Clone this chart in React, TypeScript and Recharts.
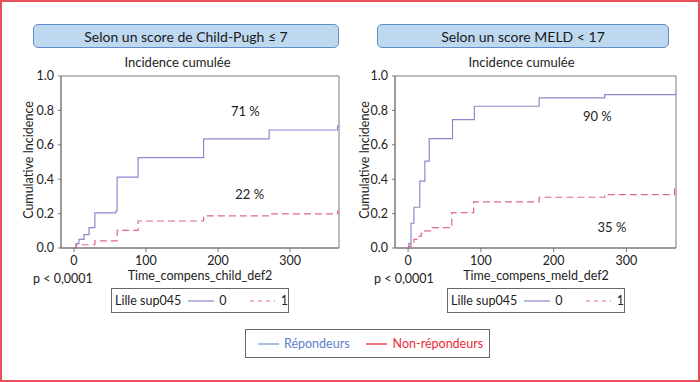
import React from 'react';
import { LineChart, Line, XAxis, YAxis, ReferenceArea, ReferenceDot } from 'recharts';

// Left panel (Child-Pugh ≤ 7): [day, cumulative incidence]
const childRespT = [0, 3, 7, 14, 21, 29, 58, 60, 89, 180, 271, 366, 368];
const childRespV = [0, 0.025, 0.05, 0.078, 0.118, 0.204, 0.215, 0.412, 0.525, 0.634, 0.686, 0.709, 0.709];
const childNonT = [0, 3, 29, 60, 89, 180, 271, 366, 368];
const childNonV = [0, 0.019, 0.041, 0.103, 0.157, 0.187, 0.198, 0.214, 0.214];

// Right panel (MELD < 17)
const meldRespT = [0, 1, 4, 8, 16, 23, 29, 61, 91, 180, 270, 367, 368];
const meldRespV = [0, 0.027, 0.144, 0.237, 0.389, 0.505, 0.636, 0.746, 0.824, 0.873, 0.892, 0.895, 0.895];
const meldNonT = [0, 1, 4, 8, 13, 18, 23, 31, 60, 90, 180, 270, 366, 368];
const meldNonV = [0, 0.01, 0.03, 0.05, 0.068, 0.085, 0.1, 0.118, 0.206, 0.268, 0.295, 0.31, 0.342, 0.342];

const xTicks = [0, 100, 200, 300];
const yTicks = [0, 0.2, 0.4, 0.6, 0.8, 1.0];

const FONT = 'Lato, "Open Sans", sans-serif';
const BLUE = '#8a8ad0';
const RED = '#dc6a84';
const AXIS = '#7a7a7a';

const toSeries = (t: number[], v: number[]) => t.map((x, i) => ({ t: x, v: v[i] }));

type PanelProps = {
  left: number;
  right: number;
  respT: number[]; respV: number[]; nonT: number[]; nonV: number[];
  respLabel: { x: number; y: number; text: string };
  nonLabel: { x: number; y: number; text: string };
};

function Panel({ left, right, respT, respV, nonT, nonV, respLabel, nonLabel }: PanelProps) {
  const tickStyle = { fill: '#222', fontSize: 12.5, fontFamily: FONT };
  return (
    <div style={{ position: 'absolute', left, top: 0 }}>
      <LineChart width={350} height={300} margin={{ top: 76, right, bottom: 22, left: 0 }}>
        <XAxis
          type="number"
          dataKey="t"
          domain={[-18, 368]}
          allowDataOverflow
          ticks={xTicks}
          tickSize={4}
          tickMargin={4}
          height={30}
          stroke={AXIS}
          tick={tickStyle}
        />
        <YAxis
          type="number"
          dataKey="v"
          domain={[0, 1]}
          ticks={yTicks}
          tickFormatter={(v: number) => v.toFixed(1)}
          tickSize={3}
          tickMargin={4}
          width={61}
          stroke={AXIS}
          tick={tickStyle}
        />
        <ReferenceArea x1={-18} x2={368} y1={0} y2={1} fill="none" stroke={AXIS} strokeWidth={1} ifOverflow="visible" />
        <Line
          data={toSeries(respT, respV)}
          dataKey="v"
          type="stepAfter"
          stroke={BLUE}
          strokeWidth={1.2}
          dot={false}
          isAnimationActive={false}
        />
        <Line
          data={toSeries(nonT, nonV)}
          dataKey="v"
          type="stepAfter"
          stroke={RED}
          strokeWidth={1.2}
          strokeDasharray="7 4"
          dot={false}
          isAnimationActive={false}
        />
        <ReferenceDot x={respLabel.x} y={respLabel.y} r={0} fill="none" stroke="none"
          label={{ value: respLabel.text, position: 'center', fill: '#222', fontSize: 13, fontFamily: FONT }} />
        <ReferenceDot x={nonLabel.x} y={nonLabel.y} r={0} fill="none" stroke="none"
          label={{ value: nonLabel.text, position: 'center', fill: '#222', fontSize: 13, fontFamily: FONT }} />
      </LineChart>
    </div>
  );
}

const abs = (o: React.CSSProperties): React.CSSProperties => ({ position: 'absolute', ...o });

function TitleBox({ x, w, text }: { x: number; w: number; text: string }) {
  return (
    <div style={abs({
      left: x, top: 24, width: w, height: 24, boxSizing: 'border-box',
      background: '#bed8f0', border: '1px solid #5f8fca', borderRadius: 5,
      display: 'flex', alignItems: 'center', justifyContent: 'center',
      fontSize: 14, color: '#1a1a1a',
    })}>{text}</div>
  );
}

function SmallLegend({ x }: { x: number }) {
  return (
    <div style={abs({
      left: x, top: 288, width: 178, height: 25, boxSizing: 'border-box',
      border: '1.5px solid #666', display: 'flex', alignItems: 'center',
      fontSize: 12.5, color: '#222', paddingLeft: 3, whiteSpace: 'nowrap',
    })}>
      <span>Lille sup045</span>
      <svg width={30} height={10} style={{ marginLeft: 7 }}>
        <line x1={0} y1={5} x2={29} y2={5} stroke={BLUE} strokeWidth={1.2} />
      </svg>
      <span style={{ marginLeft: 5 }}>0</span>
      <svg width={29} height={10} style={{ marginLeft: 23 }}>
        <line x1={0} y1={5} x2={29} y2={5} stroke={RED} strokeWidth={1.2} strokeDasharray="4 4" />
      </svg>
      <span style={{ marginLeft: 6 }}>1</span>
    </div>
  );
}

const yLabelStyle = (cx: number): React.CSSProperties => abs({
  left: cx - 70, top: 160 - 7, width: 140, height: 14, textAlign: 'center',
  transform: 'rotate(-90deg)', fontSize: 12.5, color: '#222', lineHeight: '14px', whiteSpace: 'nowrap',
});

export default function App() {
  return (
    <div style={{ position: 'absolute', left: 0, top: 0, width: 700, height: 382, background: '#fff', fontFamily: FONT, overflow: 'hidden' }}>
      <TitleBox x={33} w={306} text="Selon un score de Child-Pugh ≤ 7" />
      <TitleBox x={377} w={292} text="Selon un score MELD < 17" />

      <div style={abs({ left: 100, top: 55, width: 155, textAlign: 'center', fontSize: 13, lineHeight: '15px', color: '#222' })}>Incidence cumulée</div>
      <div style={abs({ left: 444, top: 55, width: 155, textAlign: 'center', fontSize: 13, lineHeight: '15px', color: '#222' })}>Incidence cumulée</div>

      <Panel
        left={0}
        right={11}
        respT={childRespT} respV={childRespV} nonT={childNonT} nonV={childNonV}
        respLabel={{ x: 238, y: 0.797, text: '71 %' }}
        nonLabel={{ x: 244, y: 0.313, text: '22 %' }}
      />
      <Panel
        left={334}
        right={8}
        respT={meldRespT} respV={meldRespV} nonT={meldNonT} nonV={meldNonV}
        respLabel={{ x: 260, y: 0.764, text: '90 %' }}
        nonLabel={{ x: 280, y: 0.117, text: '35 %' }}
      />

      <div style={yLabelStyle(29)}>Cumulative Incidence</div>
      <div style={yLabelStyle(365)}>Cumulative Incidence</div>

      <div style={abs({ left: 120, top: 268.5, width: 160, textAlign: 'center', fontSize: 12.5, lineHeight: '13px', color: '#222' })}>Time_compens_child_def2</div>
      <div style={abs({ left: 456, top: 268.5, width: 160, textAlign: 'center', fontSize: 12.5, lineHeight: '13px', color: '#222' })}>Time_compens_meld_def2</div>

      <div style={abs({ left: 33, top: 272, fontSize: 12.5, lineHeight: '13px', color: '#222' })}>p &lt; 0,0001</div>
      <div style={abs({ left: 374, top: 272, fontSize: 12.5, lineHeight: '13px', color: '#222' })}>p &lt; 0,0001</div>

      <SmallLegend x={111} />
      <SmallLegend x={447} />

      <div style={abs({
        left: 245, top: 329, width: 245, height: 29, boxSizing: 'border-box',
        border: '1.5px solid #666', display: 'flex', alignItems: 'center', fontSize: 12.5, whiteSpace: 'nowrap',
      })}>
        <svg width={21} height={10} style={{ marginLeft: 12 }}>
          <line x1={0} y1={5} x2={21} y2={5} stroke="#7d9ad8" strokeWidth={1.3} />
        </svg>
        <span style={{ marginLeft: 5, color: '#5d80cc' }}>Répondeurs</span>
        <svg width={21} height={10} style={{ marginLeft: 16 }}>
          <line x1={0} y1={5} x2={21} y2={5} stroke="#ec2a38" strokeWidth={1.3} />
        </svg>
        <span style={{ marginLeft: 6, color: '#ec2a38' }}>Non-répondeurs</span>
      </div>

      <div style={abs({ left: 0, top: 0, width: 700, height: 382, boxSizing: 'border-box', border: '2px solid #e8505a', pointerEvents: 'none' })} />
    </div>
  );
}
